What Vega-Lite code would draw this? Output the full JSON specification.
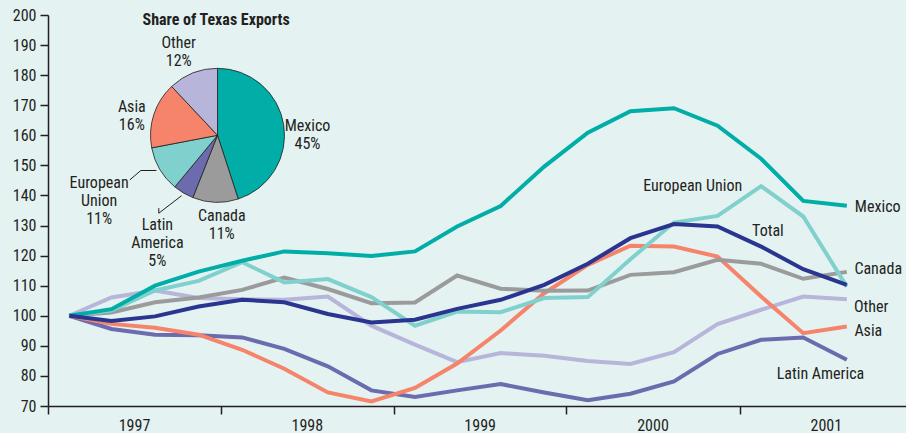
{
  "$schema": "https://vega.github.io/schema/vega-lite/v6.json",
  "width": 858,
  "height": 391,
  "autosize": {"type": "none"},
  "padding": {"left": 48, "top": 15, "right": 0, "bottom": 27},
  "background": "#E4F2F2",
  "config": {
    "view": {"stroke": null},
    "font": "Liberation Sans Narrow, Roboto Condensed, Arial Narrow, Liberation Sans, sans-serif",
    "text": {"font": "Liberation Sans Narrow, Roboto Condensed, Arial Narrow, Liberation Sans, sans-serif", "fontSize": 16, "fill": "#231F20"},
    "axis": {"labelFont": "Liberation Sans Narrow, Roboto Condensed, Arial Narrow, Liberation Sans, sans-serif"}
  },
  "resolve": {"axis": {"x": "independent", "y": "independent"}},
  "datasets": {
    "series": [
      {"d": "1997-02-15", "Mexico": 100, "Total": 100, "Canada": 100, "European Union": 100, "Asia": 100, "Latin America": 100, "Other": 100},
      {"d": "1997-05-15", "Mexico": 102.2, "Total": 98.3, "Canada": 101.1, "European Union": 101.7, "Asia": 97.3, "Latin America": 95.6, "Other": 106.1},
      {"d": "1997-08-15", "Mexico": 110.0, "Total": 99.8, "Canada": 104.5, "European Union": 108.4, "Asia": 96.0, "Latin America": 93.7, "Other": 108.4},
      {"d": "1997-11-15", "Mexico": 114.7, "Total": 103.1, "Canada": 106.1, "European Union": 111.6, "Asia": 93.7, "Latin America": 93.5, "Other": 105.9},
      {"d": "1998-02-15", "Mexico": 118.3, "Total": 105.3, "Canada": 108.6, "European Union": 117.8, "Asia": 88.7, "Latin America": 92.8, "Other": 105.5},
      {"d": "1998-05-15", "Mexico": 121.4, "Total": 104.5, "Canada": 112.7, "European Union": 111.1, "Asia": 82.4, "Latin America": 89.0, "Other": 105.3},
      {"d": "1998-08-15", "Mexico": 120.8, "Total": 100.6, "Canada": 108.9, "European Union": 112.2, "Asia": 74.5, "Latin America": 83.2, "Other": 106.4},
      {"d": "1998-11-15", "Mexico": 119.9, "Total": 97.8, "Canada": 104.2, "European Union": 106.2, "Asia": 71.5, "Latin America": 75.2, "Other": 96.7},
      {"d": "1999-02-15", "Mexico": 121.4, "Total": 98.7, "Canada": 104.4, "European Union": 96.7, "Asia": 76.0, "Latin America": 73.0, "Other": 90.4},
      {"d": "1999-05-15", "Mexico": 129.7, "Total": 102.3, "Canada": 113.4, "European Union": 101.4, "Asia": 84.1, "Latin America": 75.2, "Other": 84.6},
      {"d": "1999-08-15", "Mexico": 136.5, "Total": 105.3, "Canada": 109.0, "European Union": 101.2, "Asia": 95.1, "Latin America": 77.3, "Other": 87.6},
      {"d": "1999-11-15", "Mexico": 149.6, "Total": 110.3, "Canada": 108.3, "European Union": 105.9, "Asia": 107.5, "Latin America": 74.5, "Other": 86.7},
      {"d": "2000-02-15", "Mexico": 160.9, "Total": 117.3, "Canada": 108.4, "European Union": 106.2, "Asia": 116.9, "Latin America": 71.9, "Other": 85.0},
      {"d": "2000-05-15", "Mexico": 168.0, "Total": 125.8, "Canada": 113.6, "European Union": 118.8, "Asia": 123.3, "Latin America": 74.1, "Other": 84.0},
      {"d": "2000-08-15", "Mexico": 169.0, "Total": 130.5, "Canada": 114.5, "European Union": 131.0, "Asia": 123.0, "Latin America": 78.2, "Other": 87.9},
      {"d": "2000-11-15", "Mexico": 163.2, "Total": 129.7, "Canada": 118.6, "European Union": 133.2, "Asia": 119.7, "Latin America": 87.3, "Other": 97.2},
      {"d": "2001-02-15", "Mexico": 152.2, "Total": 123.0, "Canada": 117.3, "European Union": 143.1, "Asia": 106.4, "Latin America": 92.0, "Other": 102.0},
      {"d": "2001-05-15", "Mexico": 138.2, "Total": 115.5, "Canada": 112.3, "European Union": 133.0, "Asia": 94.2, "Latin America": 92.8, "Other": 106.4},
      {"d": "2001-08-15", "Mexico": 136.6, "Total": 110.3, "Canada": 114.6, "European Union": 109.7, "Asia": 96.4, "Latin America": 85.4, "Other": 105.5}
    ],
    "pie": [
      {"region": "Mexico", "share": 45, "idx": 1},
      {"region": "Canada", "share": 11, "idx": 2},
      {"region": "Latin America", "share": 5, "idx": 3},
      {"region": "European Union", "share": 11, "idx": 4},
      {"region": "Asia", "share": 16, "idx": 5},
      {"region": "Other", "share": 12, "idx": 6}
    ],
    "pieLabels": [
      {"label": "Mexico\n45%", "d": "1998-07-03", "v": 163.2},
      {"label": "Canada\n11%", "d": "1998-01-03", "v": 133.2},
      {"label": "Latin\nAmerica\n5%", "d": "1997-08-20", "v": 130.3},
      {"label": "European\nUnion\n11%", "d": "1997-04-19", "v": 144.2},
      {"label": "Asia\n16%", "d": "1997-06-27", "v": 169.5},
      {"label": "Other\n12%", "d": "1997-10-04", "v": 190.8}
    ],
    "leaders": [
      {"seg": "eu", "d": "1997-08-18", "v": 148.3},
      {"seg": "eu", "d": "1997-07-16", "v": 148.3},
      {"seg": "eu", "d": "1997-06-23", "v": 145.2},
      {"seg": "la", "d": "1997-10-10", "v": 139.9},
      {"seg": "la", "d": "1997-08-23", "v": 135.8},
      {"seg": "la", "d": "1997-08-23", "v": 134.1}
    ],
    "lineLabels": [
      {"label": "Mexico", "d": "2001-09-01", "v": 136.3},
      {"label": "Total", "d": "2001-01-27", "v": 128.2},
      {"label": "Canada", "d": "2001-08-31", "v": 115.5},
      {"label": "Other", "d": "2001-08-30", "v": 102.9},
      {"label": "Asia", "d": "2001-08-31", "v": 95.0},
      {"label": "Latin America", "d": "2001-03-20", "v": 80.7},
      {"label": "European Union", "d": "2000-06-11", "v": 143.2}
    ]
  },
  "layer": [
    {
      "data": {"name": "series"},
      "transform": [{"fold": ["Other", "Latin America", "Asia", "Canada", "European Union", "Mexico", "Total"], "as": ["region", "value"]}],
      "mark": {"type": "line", "strokeWidth": 4, "strokeJoin": "miter", "clip": true},
      "encoding": {
        "x": {
          "field": "d", "type": "temporal", "title": null,
          "scale": {"type": "utc", "domain": [{"year": 1997, "month": 1, "date": 1, "utc": true}, {"year": 2001, "month": 12, "date": 18, "utc": true}]},
          "axis": {
            "values": [{"year": 1997, "utc": true}, {"year": 1998, "utc": true}, {"year": 1999, "utc": true}, {"year": 2000, "utc": true}, {"year": 2001, "utc": true}],
            "format": "%Y", "labelOffset": 86, "tickSize": 8, "labelPadding": 3, "labelFontSize": 16,
            "labelColor": "#231F20", "domainColor": "#231F20", "tickColor": "#231F20", "domainWidth": 1.5, "tickWidth": 1.5,
            "grid": false, "labelFlush": false, "labelOverlap": false, "labelBound": false
          }
        },
        "y": {
          "field": "value", "type": "quantitative", "title": null,
          "scale": {"domain": [70, 200], "nice": false, "zero": false},
          "axis": {
            "values": [70, 80, 90, 100, 110, 120, 130, 140, 150, 160, 170, 180, 190, 200],
            "tickSize": 8, "labelPadding": 4, "labelFontSize": 16, "labelColor": "#231F20",
            "domainColor": "#231F20", "tickColor": "#231F20", "domainWidth": 1.5, "tickWidth": 1.5, "grid": false,
            "labelOverlap": false, "labelFlush": false, "labelBound": false
          }
        },
        "color": {
          "field": "region", "type": "nominal", "legend": null,
          "scale": {
            "domain": ["Mexico", "Canada", "Latin America", "European Union", "Asia", "Other", "Total"],
            "range": ["#00ADA7", "#9B9B9B", "#6B6BAE", "#80D0CD", "#F5846B", "#B8B5DB", "#2A3590"]
          }
        }
      }
    },
    {
      "data": {"name": "pie"},
      "mark": {"type": "arc", "outerRadius": 67, "stroke": "#231F20", "strokeWidth": 0.8},
      "encoding": {
        "x": {"datum": {"year": 1997, "month": 12, "date": 25, "utc": true}, "type": "temporal", "axis": null},
        "y": {"datum": 160, "type": "quantitative", "axis": null},
        "theta": {"field": "share", "type": "quantitative", "stack": true},
        "order": {"field": "idx", "type": "quantitative"},
        "color": {"field": "region", "type": "nominal", "legend": null}
      }
    },
    {
      "data": {"name": "pieLabels"},
      "mark": {"type": "text", "lineBreak": "\n", "lineHeight": 18, "align": "center", "baseline": "middle", "fontSize": 16},
      "encoding": {
        "x": {"field": "d", "type": "temporal", "axis": null},
        "y": {"field": "v", "type": "quantitative", "axis": null},
        "text": {"field": "label"}
      }
    },
    {
      "data": {"values": [{"t": "Share of Texas Exports"}]},
      "mark": {"type": "text", "fontWeight": "bold", "fontSize": 16, "align": "center", "baseline": "middle"},
      "encoding": {
        "x": {"datum": {"year": 1997, "month": 12, "date": 22, "utc": true}, "type": "temporal", "axis": null},
        "y": {"datum": 198.2, "type": "quantitative", "axis": null},
        "text": {"field": "t"}
      }
    },
    {
      "data": {"name": "leaders"},
      "mark": {"type": "line", "stroke": "#231F20", "strokeWidth": 1},
      "encoding": {
        "x": {"field": "d", "type": "temporal", "axis": null},
        "y": {"field": "v", "type": "quantitative", "axis": null},
        "detail": {"field": "seg"}
      }
    },
    {
      "data": {"name": "lineLabels"},
      "mark": {"type": "text", "align": "left", "baseline": "middle", "fontSize": 16},
      "encoding": {
        "x": {"field": "d", "type": "temporal", "axis": null},
        "y": {"field": "v", "type": "quantitative", "axis": null},
        "text": {"field": "label"}
      }
    }
  ]
}
